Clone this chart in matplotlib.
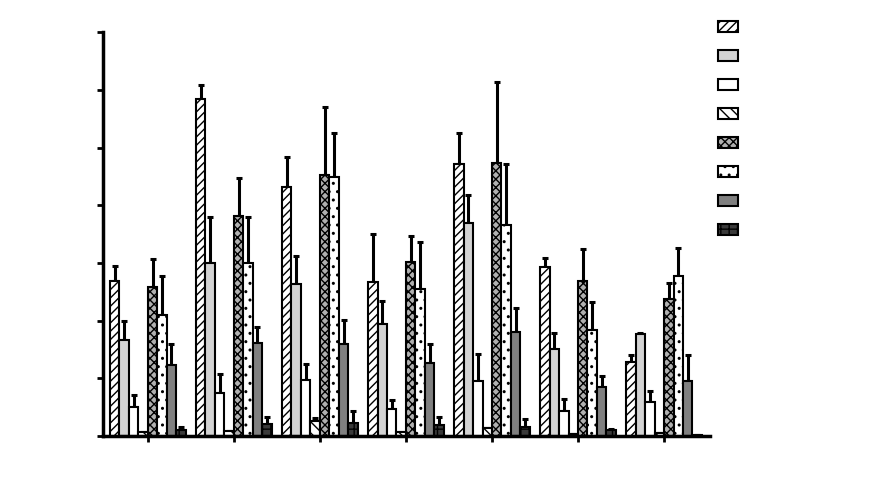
import numpy as np
import matplotlib
matplotlib.use("Agg")
import matplotlib.pyplot as plt

plt.rcParams['hatch.linewidth'] = 1.0

# 7 groups, 8 series each (mean and upper error)
groups = [1, 2, 3, 4, 5, 6, 7]
means = [
    [26.9, 58.4, 43.2, 26.7, 47.1, 29.3, 12.8],
    [16.6, 30.0, 26.3, 19.4, 36.9, 15.1, 17.7],
    [5.0, 7.5, 9.7, 4.7, 9.5, 4.3, 5.9],
    [0.7, 0.9, 2.6, 0.7, 1.4, 0.3, 0.5],
    [25.8, 38.1, 45.2, 30.2, 47.3, 26.9, 23.7],
    [21.0, 30.0, 44.9, 25.5, 36.6, 18.4, 27.7],
    [12.3, 16.1, 15.9, 12.7, 18.0, 8.5, 9.5],
    [1.0, 2.1, 2.3, 1.9, 1.6, 1.0, 0.1],
]
errors = [
    [2.6, 2.4, 5.2, 8.3, 5.4, 1.5, 1.2],
    [3.3, 8.0, 4.9, 4.0, 4.9, 2.8, 0.2],
    [2.1, 3.2, 2.8, 1.5, 4.7, 2.1, 1.9],
    [0.0, 0.0, 0.5, 0.0, 0.0, 0.0, 0.0],
    [4.9, 6.6, 11.8, 4.5, 14.1, 5.5, 2.8],
    [6.7, 8.0, 7.6, 8.1, 10.5, 4.8, 4.9],
    [3.6, 2.8, 4.2, 3.2, 4.2, 1.9, 4.5],
    [0.6, 1.2, 2.0, 1.4, 1.3, 0.2, 0.0],
]
facecolors = ['white', '#d3d3d3', 'white', 'white', '#b0b0b0', 'white', '#808080', '#3a3a3a']
hatches = ['////', None, None, '\\\\\\', 'xxxx', '..', None, '++']

fig = plt.figure(figsize=(8.86, 4.81), dpi=100)
ax = fig.add_axes([0.116, 0.0915, 0.685, 0.8395])

x = np.arange(len(groups))
w = 0.11
handles = []
for i in range(8):
    pos = x + (i - 3.5) * w
    b = ax.bar(pos, means[i], width=w, color=facecolors[i], edgecolor='black',
               linewidth=1.5, hatch=hatches[i], zorder=2)
    ax.errorbar(pos, means[i], yerr=[np.zeros(len(groups)), errors[i]], fmt='none',
                ecolor='black', elinewidth=2.2, capsize=2, capthick=2.2, zorder=1)
    handles.append(b)

ax.set_xlim(-0.523, 6.53)
ax.set_ylim(0, 70)
ax.set_yticks(np.arange(0, 71, 10))
ax.set_xticks(x)
ax.set_xticklabels([])
ax.set_yticklabels([])
for s in ['top', 'right']:
    ax.spines[s].set_visible(False)
ax.spines['left'].set_linewidth(2.5)
ax.spines['bottom'].set_linewidth(2.5)
ax.tick_params(axis='both', direction='out', length=4, width=2)

fig.legend(handles, [' '] * 8, loc='upper left', bbox_to_anchor=(0.81, 0.955),
           frameon=False, fontsize=10, handlelength=1.44, handleheight=0.86,
           labelspacing=1.08, borderpad=0, borderaxespad=0)

fig.savefig('out.png', dpi=100)
